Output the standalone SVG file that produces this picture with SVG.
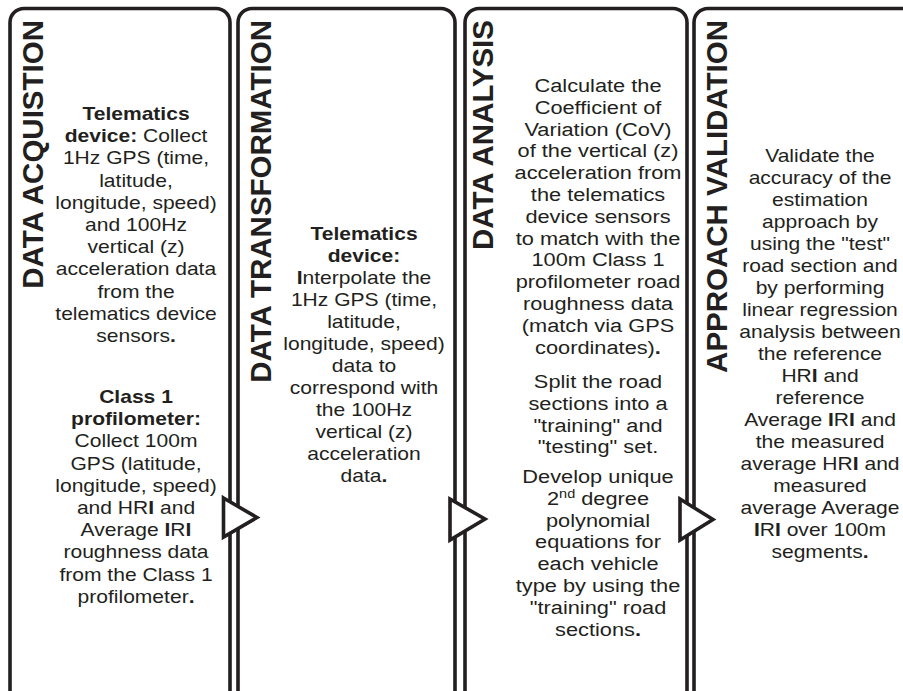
<svg xmlns="http://www.w3.org/2000/svg" width="903" height="691" viewBox="0 0 903 691">
<style>
.box{fill:#fff;stroke:#231f20;stroke-width:3.6}
.arr{fill:#fff;stroke:#231f20;stroke-width:3.6;stroke-linejoin:miter}
.title{font-family:"Liberation Sans",Arial,sans-serif;font-weight:bold;font-size:29.5px;fill:#231f20;text-anchor:end}
.t{font-family:"Liberation Sans",Arial,sans-serif;font-size:18px;fill:#231f20;text-anchor:middle}
.b{font-weight:bold}
</style>
<rect width="903" height="691" fill="#fff"/>
<g id="acquisition">
<rect class="box" x="10" y="8.5" width="220" height="700" rx="14"/>
<text class="title" transform="translate(43,20) rotate(-90)">DATA ACQUISTION</text>
<g transform="translate(136,0) scale(1.17,1)">
<text class="t" x="0" y="120" font-weight="bold">Telematics</text>
<text class="t" x="0" y="142.2"><tspan class="b">device:</tspan> Collect</text>
<text class="t" x="0" y="164.4">1Hz GPS (time,</text>
<text class="t" x="0" y="186.6">latitude,</text>
<text class="t" x="0" y="208.8">longitude, speed)</text>
<text class="t" x="0" y="231">and 100Hz</text>
<text class="t" x="0" y="253.2">vertical (z)</text>
<text class="t" x="0" y="275.4">acceleration data</text>
<text class="t" x="0" y="297.6">from the</text>
<text class="t" x="0" y="319.8">telematics device</text>
<text class="t" x="0" y="342">sensors<tspan class="b">.</tspan></text>
<text class="t" x="0" y="403" font-weight="bold">Class 1</text>
<text class="t" x="0" y="425.2" font-weight="bold">profilometer:</text>
<text class="t" x="0" y="447.4">Collect 100m</text>
<text class="t" x="0" y="469.6">GPS (latitude,</text>
<text class="t" x="0" y="491.8">longitude, speed)</text>
<text class="t" x="0" y="514">and HR<tspan class="b">I</tspan> and</text>
<text class="t" x="0" y="536.2">Average <tspan class="b">I</tspan>R<tspan class="b">I</tspan></text>
<text class="t" x="0" y="558.4">roughness data</text>
<text class="t" x="0" y="580.6">from the Class 1</text>
<text class="t" x="0" y="602.8">profilometer<tspan class="b">.</tspan></text>
</g>
</g>
<g id="transformation">
<rect class="box" x="238" y="8.5" width="217" height="700" rx="14"/>
<text class="title" transform="translate(271,20) rotate(-90)">DATA TRANSFORMATION</text>
<g transform="translate(364,0) scale(1.17,1)">
<text class="t" x="0" y="240" font-weight="bold">Telematics</text>
<text class="t" x="0" y="262" font-weight="bold">device:</text>
<text class="t" x="0" y="284"><tspan class="b">I</tspan>nterpolate the</text>
<text class="t" x="0" y="306">1Hz GPS (time,</text>
<text class="t" x="0" y="328">latitude,</text>
<text class="t" x="0" y="350">longitude, speed)</text>
<text class="t" x="0" y="372">data to</text>
<text class="t" x="0" y="394">correspond with</text>
<text class="t" x="0" y="416">the 100Hz</text>
<text class="t" x="0" y="438">vertical (z)</text>
<text class="t" x="0" y="460">acceleration</text>
<text class="t" x="0" y="482">data<tspan class="b">.</tspan></text>
</g>
</g>
<g id="analysis">
<rect class="box" x="465" y="8.5" width="222" height="700" rx="14"/>
<text class="title" transform="translate(493,20) rotate(-90)">DATA ANALYSIS</text>
<g transform="translate(598,0) scale(1.21,1)">
<text class="t" x="0" y="92">Calculate the</text>
<text class="t" x="0" y="113.8">Coefficient of</text>
<text class="t" x="0" y="135.6">Variation (CoV)</text>
<text class="t" x="0" y="157.4">of the vertical (z)</text>
<text class="t" x="0" y="179.2">acceleration from</text>
<text class="t" x="0" y="201">the telematics</text>
<text class="t" x="0" y="222.8">device sensors</text>
<text class="t" x="0" y="244.6">to match with the</text>
<text class="t" x="0" y="266.4">100m Class 1</text>
<text class="t" x="0" y="288.2">profilometer road</text>
<text class="t" x="0" y="310">roughness data</text>
<text class="t" x="0" y="331.8">(match via GPS</text>
<text class="t" x="0" y="353.6">coordinates)<tspan class="b">.</tspan></text>
<text class="t" x="0" y="388">Split the road</text>
<text class="t" x="0" y="409.8">sections into a</text>
<text class="t" x="0" y="431.6">"training" and</text>
<text class="t" x="0" y="453.4">"testing" set.</text>
<text class="t" x="0" y="483">Develop unique</text>
<text class="t" x="0" y="504.8">2<tspan font-size="12" dy="-7">nd</tspan><tspan dy="7"> degree</tspan></text>
<text class="t" x="0" y="526.6">polynomial</text>
<text class="t" x="0" y="548.4">equations for</text>
<text class="t" x="0" y="570.2">each vehicle</text>
<text class="t" x="0" y="592">type by using the</text>
<text class="t" x="0" y="613.8">"training" road</text>
<text class="t" x="0" y="635.6">sections<tspan class="b">.</tspan></text>
</g>
</g>
<g id="validation">
<rect class="box" x="694" y="8.5" width="240" height="700" rx="14"/>
<text class="title" transform="translate(727,20) rotate(-90)">APPROACH VALIDATION</text>
<g transform="translate(820,0) scale(1.17,1)">
<text class="t" x="0" y="162">Validate the</text>
<text class="t" x="0" y="184">accuracy of the</text>
<text class="t" x="0" y="206">estimation</text>
<text class="t" x="0" y="228">approach by</text>
<text class="t" x="0" y="250">using the "test"</text>
<text class="t" x="0" y="272">road section and</text>
<text class="t" x="0" y="294">by performing</text>
<text class="t" x="0" y="316">linear regression</text>
<text class="t" x="0" y="338">analysis between</text>
<text class="t" x="0" y="360">the reference</text>
<text class="t" x="0" y="382">HR<tspan class="b">I</tspan> and</text>
<text class="t" x="0" y="404">reference</text>
<text class="t" x="0" y="426">Average <tspan class="b">I</tspan>R<tspan class="b">I</tspan> and</text>
<text class="t" x="0" y="448">the measured</text>
<text class="t" x="0" y="470">average HR<tspan class="b">I</tspan> and</text>
<text class="t" x="0" y="492">measured</text>
<text class="t" x="0" y="514">average Average</text>
<text class="t" x="0" y="536"><tspan class="b">I</tspan>R<tspan class="b">I</tspan> over 100m</text>
<text class="t" x="0" y="558">segments<tspan class="b">.</tspan></text>
</g>
</g>
<g id="connectors">
<polygon class="arr" points="223.5,498 257,517.5 223.5,537"/>
<polygon class="arr" points="450,499 485,519 450,540"/>
<polygon class="arr" points="680,499 713,519.5 680,540"/>
</g>
</svg>
